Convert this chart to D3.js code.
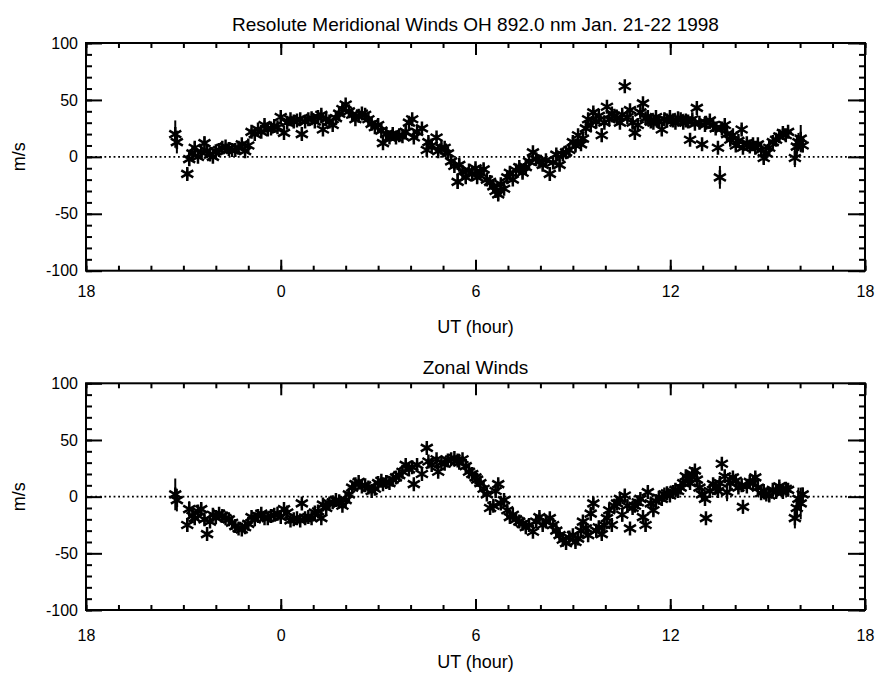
<!DOCTYPE html>
<html>
<head>
<meta charset="utf-8">
<script src="https://cdn.jsdelivr.net/npm/d3@7"></script>
<style>
  html, body { margin: 0; padding: 0; background: #fff; }
  svg { display: block; font-family: "Liberation Sans", Arial, Helvetica, sans-serif; }
</style>
</head>
<body>
<svg id="chart" width="875" height="675"></svg>
<script>
// ---- DATA ----
const titleTop = "Resolute Meridional Winds OH 892.0 nm Jan. 21-22 1998";
const titleBottom = "Zonal Winds";
const xAxisTitle = "UT (hour)";
const yAxisTitle = "m/s";
const xTickValues = [-6, 0, 6, 12, 18];
const xTickLabels = ["18", "0", "6", "12", "18"];
const yTickValues = [-100, -50, 0, 50, 100];
const yTickLabels = ["-100", "-50", "0", "50", "100"];

// UT hours relative to 0 UT of Jan 22 (negative = Jan 21 evening)
const hours = [
  -3.25,-3.20,-2.88,-2.82,-2.72,-2.65,-2.55,-2.45,-2.35,-2.27,
  -2.18,-2.09,-2.00,-1.90,-1.80,-1.70,-1.60,-1.50,-1.40,-1.30,
  -1.20,-1.10,-1.00,-0.90,-0.80,-0.70,-0.60,-0.50,-0.40,-0.30,
  -0.20,-0.10,0.00,0.10,0.20,0.30,0.40,0.50,0.60,0.65,
  0.75,0.85,0.95,1.05,1.15,1.25,1.30,1.40,1.50,1.60,
  1.70,1.80,1.90,2.00,2.10,2.20,2.30,2.40,2.50,2.60,
  2.70,2.80,2.90,3.00,3.10,3.15,3.25,3.35,3.45,3.55,
  3.65,3.75,3.85,3.95,4.05,4.10,4.20,4.35,4.50,4.55,
  4.65,4.80,4.85,4.95,5.05,5.15,5.25,5.35,5.45,5.50,
  5.60,5.70,5.80,5.90,6.00,6.05,6.15,6.25,6.35,6.45,
  6.55,6.62,6.70,6.78,6.88,6.98,7.06,7.15,7.25,7.35,
  7.45,7.55,7.65,7.77,7.87,7.97,8.07,8.17,8.29,8.39,
  8.49,8.59,8.69,8.79,8.89,9.00,9.08,9.16,9.25,9.31,
  9.40,9.47,9.55,9.63,9.72,9.80,9.89,9.97,10.05,10.12,
  10.20,10.28,10.36,10.45,10.52,10.60,10.68,10.76,10.84,10.91,
  11.00,11.08,11.16,11.24,11.31,11.40,11.48,11.56,11.65,11.74,
  11.82,11.90,11.99,12.08,12.16,12.24,12.32,12.40,12.48,12.55,
  12.61,12.68,12.76,12.82,12.90,12.98,13.07,13.10,13.22,13.32,
  13.40,13.47,13.53,13.59,13.68,13.75,13.85,13.93,14.02,14.10,
  14.20,14.24,14.36,14.45,14.55,14.62,14.70,14.80,14.88,14.96,
  15.05,15.16,15.26,15.36,15.47,15.56,15.63,15.84,15.90,15.95,
  16.02,16.08
];

const meridional = [
  20,13,-15,-2,3,8,0,4,12,5,
  2,0,5,6,8,9,7,6,6,8,
  11,5,10,22,20,24,22,28,24,25,
  27,26,35,21,30,33,31,32,33,20,
  31,33,34,31,35,37,24,33,31,28,
  34,38,42,46,40,37,33,36,38,37,
  33,29,26,28,23,12,20,17,20,17,
  19,18,22,30,33,17,22,25,6,13,
  10,17,5,8,8,3,-4,-8,-22,-7,
  -13,-18,-12,-15,-10,-18,-14,-11,-20,-22,
  -26,-30,-33,-24,-28,-18,-14,-20,-12,-9,
  -14,-9,-4,4,-2,-4,-7,-3,-15,-5,
  2,-7,2,4,6,13,10,19,11,16,
  25,33,28,39,31,36,19,30,44,33,
  38,36,34,30,37,62,35,41,30,21,
  28,39,47,34,35,31,30,35,31,24,
  33,32,35,32,30,34,33,30,32,31,
  15,33,29,43,30,11,28,30,32,28,
  25,8,-18,25,28,20,15,19,10,14,
  24,8,12,9,11,8,11,6,-1,3,
  8,13,15,18,21,19,22,-1,9,13,
  16,10
];
const meridionalErr = [
  12,10,5,6,4,5,4,5,6,4,
  4,4,3,4,3,3,4,3,3,4,
  3,4,3,3,4,3,3,4,3,3,
  3,4,3,4,3,3,4,3,3,5,
  3,3,4,3,3,4,4,3,3,3,
  3,3,4,3,4,3,3,4,3,3,
  3,4,3,4,3,4,3,3,4,3,
  4,3,4,4,3,4,4,3,5,4,
  4,3,4,4,3,4,4,4,6,5,
  4,5,4,4,4,5,4,5,5,4,
  5,4,5,4,4,4,5,4,4,4,
  5,4,4,5,4,4,5,4,6,4,
  4,5,4,4,4,4,5,4,4,4,
  4,4,4,4,4,4,6,4,4,4,
  4,4,4,5,4,4,4,4,4,6,
  4,4,4,4,4,4,4,4,4,5,
  4,4,4,4,4,4,4,4,4,4,
  5,4,4,4,4,5,4,4,4,4,
  4,5,10,4,4,4,5,4,4,4,
  4,5,4,4,4,4,4,4,5,4,
  4,4,4,4,4,4,4,8,10,8,
  12,6
];

const zonal = [
  2,-3,-25,-11,-17,-19,-13,-11,-20,-33,
  -22,-16,-18,-15,-17,-19,-20,-23,-26,-28,
  -29,-27,-24,-18,-20,-17,-15,-19,-19,-17,
  -16,-15,-18,-11,-14,-21,-20,-19,-21,-6,
  -19,-18,-19,-14,-13,-19,-7,-10,-6,-5,
  -3,-4,-8,-3,2,8,11,13,9,10,
  8,5,7,12,14,11,13,12,15,17,
  19,22,28,24,26,11,28,20,43,31,
  28,33,22,30,29,32,33,34,32,30,
  33,27,22,20,17,15,12,7,2,-10,
  -8,5,11,-6,-3,-12,-18,-16,-20,-22,
  -24,-27,-25,-31,-22,-18,-25,-22,-19,-25,
  -30,-34,-38,-41,-36,-34,-40,-37,-30,-22,
  -28,-34,-15,-6,-30,-27,-33,-25,-19,-12,
  -25,-8,-6,-2,-16,1,-8,-28,-10,-8,
  -5,-2,-18,-25,4,-6,-12,-4,-1,-2,
  2,3,1,4,6,5,8,12,18,16,
  12,20,23,15,8,2,-2,-19,5,11,
  8,5,12,29,18,4,12,17,14,8,
  10,-9,9,13,12,17,8,3,5,2,
  1,6,4,9,4,7,6,-19,-10,-2,
  -6,2
];
const zonalErr = [
  14,10,6,7,5,5,4,5,4,5,
  4,4,4,4,3,3,4,3,3,3,
  3,3,3,3,3,3,3,3,3,3,
  3,3,3,3,3,3,3,3,3,4,
  3,3,3,3,3,3,4,3,3,3,
  3,3,3,3,3,3,3,3,3,3,
  3,3,3,3,3,3,3,3,3,3,
  3,3,4,4,3,4,3,4,4,3,
  3,3,4,3,3,3,3,3,3,3,
  3,3,3,3,3,4,3,3,4,4,
  4,4,4,4,4,4,4,4,4,4,
  4,4,4,4,4,4,4,4,4,4,
  5,4,4,4,4,4,4,5,4,5,
  4,4,5,5,4,4,4,4,6,5,
  4,6,5,4,6,5,5,5,4,5,
  4,4,6,6,5,4,5,4,4,4,
  4,4,4,4,4,4,4,4,4,4,
  4,4,4,4,4,4,4,4,4,4,
  4,6,5,4,5,8,5,4,4,4,
  4,6,4,4,4,4,4,4,4,4,
  4,4,4,4,4,4,4,9,8,10,
  14,6
];

// ---- DRAWING ----
const svg = d3.select("#chart");
const xLeft = 86, xRight = 865;
const x = d3.scaleLinear().domain([-6, 18]).range([xLeft, xRight]);
const xMinor = d3.range(-6, 18.001, 1);
const yMinor = d3.range(-100, 100.001, 10);

const panels = [
  { title: titleTop, titleY: 31, top: 43, bottom: 270.7, vals: meridional, errs: meridionalErr, xLabPad: 15, xTitleY: 333 },
  { title: titleBottom, titleY: 374, top: 383.3, bottom: 610, vals: zonal, errs: zonalErr, xLabPad: 20, xTitleY: 668 }
];

const star = "M0,-7V7M-6,-3.5L6,3.5M-6,3.5L6,-3.5";

panels.forEach(p => {
  const y = d3.scaleLinear().domain([-100, 100]).range([p.bottom, p.top]);
  const g = svg.append("g");
  const h = p.bottom - p.top, w = xRight - xLeft;

  // title
  g.append("text").attr("x", (xLeft + xRight) / 2).attr("y", p.titleY)
    .attr("text-anchor", "middle").attr("font-size", 19).text(p.title);

  // zero dotted line
  g.append("line").attr("x1", x(-6)).attr("x2", x(18)).attr("y1", y(0)).attr("y2", y(0))
    .attr("stroke", "#000").attr("stroke-width", 1.8).attr("stroke-dasharray", "1.8,2.8");

  // data: error bars + asterisks
  const data = hours.map((t, i) => ({ t, v: p.vals[i], e: p.errs[i] }));
  g.append("g").selectAll("line").data(data).join("line")
    .attr("x1", d => x(d.t)).attr("x2", d => x(d.t))
    .attr("y1", d => y(d.v - d.e)).attr("y2", d => y(d.v + d.e))
    .attr("stroke", "#000").attr("stroke-width", 2);
  g.append("g").selectAll("path").data(data).join("path")
    .attr("d", star)
    .attr("transform", d => `translate(${x(d.t)},${y(d.v)})`)
    .attr("fill", "none").attr("stroke", "#000").attr("stroke-width", 2.5);

  const fmtX = d => xTickLabels[xTickValues.indexOf(d)];
  const fmtY = d => yTickLabels[yTickValues.indexOf(d)];

  const styleAxis = sel => {
    sel.select(".domain").remove();
    sel.selectAll(".tick line").attr("stroke", "#000").attr("stroke-width", 2);
    sel.selectAll("text").attr("fill", "#000").attr("font-size", 16)
      .attr("font-family", "'Liberation Sans', Arial, sans-serif");
  };

  // minor ticks
  svg.append("g").attr("transform", `translate(0,${p.bottom})`)
    .call(d3.axisBottom(x).tickValues(xMinor).tickSize(-5).tickFormat(""))
    .call(styleAxis);
  svg.append("g").attr("transform", `translate(0,${p.top})`)
    .call(d3.axisTop(x).tickValues(xMinor).tickSize(-5).tickFormat(""))
    .call(styleAxis);
  svg.append("g").attr("transform", `translate(${xLeft},0)`)
    .call(d3.axisLeft(y).tickValues(yMinor).tickSize(-6).tickFormat(""))
    .call(styleAxis);
  svg.append("g").attr("transform", `translate(${xRight},0)`)
    .call(d3.axisRight(y).tickValues(yMinor).tickSize(-6).tickFormat(""))
    .call(styleAxis);

  // major ticks
  svg.append("g").attr("transform", `translate(0,${p.bottom})`)
    .call(d3.axisBottom(x).tickValues(xTickValues).tickSize(-11).tickPadding(p.xLabPad).tickFormat(fmtX))
    .call(styleAxis);
  svg.append("g").attr("transform", `translate(0,${p.top})`)
    .call(d3.axisTop(x).tickValues(xTickValues).tickSize(-12).tickFormat(""))
    .call(styleAxis);
  svg.append("g").attr("transform", `translate(${xLeft},0)`)
    .call(d3.axisLeft(y).tickValues(yTickValues).tickSize(-16).tickPadding(8).tickFormat(fmtY))
    .call(styleAxis);
  svg.append("g").attr("transform", `translate(${xRight},0)`)
    .call(d3.axisRight(y).tickValues(yTickValues).tickSize(-17).tickFormat(""))
    .call(styleAxis);

  // frame
  svg.append("rect").attr("x", xLeft).attr("y", p.top).attr("width", w).attr("height", h)
    .attr("fill", "none").attr("stroke", "#000").attr("stroke-width", 2);

  // axis titles
  svg.append("text").attr("x", (xLeft + xRight) / 2).attr("y", p.xTitleY)
    .attr("text-anchor", "middle").attr("font-size", 18).text(xAxisTitle);
  svg.append("text").attr("transform", `translate(25,${(p.top + p.bottom) / 2}) rotate(-90)`)
    .attr("text-anchor", "middle").attr("font-size", 18).text(yAxisTitle);
});
</script>
</body>
</html>
